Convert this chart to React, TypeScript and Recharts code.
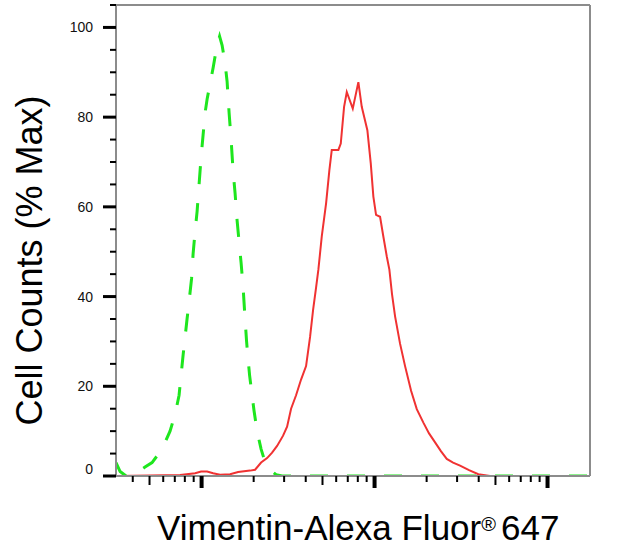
// Vimentin-Alexa Fluor 647 flow histogram (Recharts, log x axis)
import {
  LineChart,
  Line,
  XAxis,
  YAxis,
  ReferenceLine,
} from "recharts";

// isotype control (green dashed)
const GREEN_X = [32, 33.8, 36.6, 39.7, 42.4, 47.1, 51.7, 56.1, 59.1, 62.3, 65.7, 70.3, 74.1, 76.1, 78.2, 80.3, 82.4, 84.7, 87.5, 89.3, 91.7, 94.2, 96.7, 99.3, 102, 104.8, 107.6, 112, 116.6, 122.1, 127.1, 131.4, 136.7, 140.4, 144.2, 148.1, 152.1, 156.2, 160.4, 165.8, 169.2, 173.8, 178.4, 182, 185.7, 189.4, 195.8, 201.1, 209.3, 220.8, 229.8, 239.2, 255.6, 269.6, 292, 1000, 5000, 17600];
const GREEN_Y = [3, 1, 0, 0, 0.8, 2, 3, 4.8, 6, 8, 10, 13.8, 18, 22.5, 27, 31, 35, 39, 44, 49.5, 54.5, 59, 65, 71, 76, 81, 84, 87.5, 91, 95.5, 98, 96, 92, 88, 81, 75, 68, 63, 57, 51, 47.5, 42, 35, 30, 26, 22.5, 18, 14.5, 10, 6, 3.8, 2.5, 1, 0.3, 0, 0, 0, 0];

// Vimentin stained sample (red)
const RED_X = [32, 50.4, 75.1, 91.7, 99.3, 107.6, 116.6, 127.9, 146.1, 162.6, 190.6, 203.8, 220.8, 239.2, 255.6, 273.2, 295.9, 312.1, 329.1, 351.7, 375.9, 401.8, 423.8, 441, 459, 473.3, 495.2, 524.5, 548, 565.7, 617.7, 637.7, 666.4, 690.8, 748.2, 806, 843.3, 908.6, 950.7, 984.2, 1020, 1076, 1124, 1176, 1218, 1262, 1314, 1404, 1501, 1626, 1754, 1915, 2065, 2238, 2424, 2615, 2844, 3121, 3517, 3981, 4653, 17600];
const RED_Y = [0, 0.1, 0.2, 0.6, 1, 1, 0.6, 0.3, 0.4, 0.9, 1.2, 1.4, 3, 4, 5.2, 6.7, 9, 11, 15, 18, 21.5, 24.5, 31, 37, 42, 46, 53.4, 60.8, 68.2, 72.7, 72.7, 74.1, 82.3, 85.6, 81.9, 87.8, 82.3, 77.1, 69.7, 62.3, 58.2, 57.8, 53.4, 49, 46, 40.5, 35.6, 29.5, 24.5, 19, 14.9, 11.9, 9.5, 7.5, 5.5, 3.8, 3, 2.3, 1.3, 0.4, 0, 0];

const X_DOMAIN = [32, 17600];
const X_TICKS = [
  40, 50, 60, 70, 80, 90, 100,
  200, 300, 400, 500, 600, 700, 800, 900, 1000,
  2000, 3000, 4000, 5000, 6000, 7000, 8000, 9000, 10000,
];
const Y_MAX = 105;
const Y_TICKS = [0, 5, 10, 15, 20, 25, 30, 35, 40, 45, 50, 55, 60, 65, 70, 75, 80, 85, 90, 95, 100, 105];

const FONT = '"Liberation Sans", Arial, sans-serif';
const AXIS_GRAY = "#8c8c8c";

const greenData = GREEN_X.map((x, i) => ({ x, y: GREEN_Y[i] }));
const redData = RED_X.map((x, i) => ({ x, y: RED_Y[i] }));

function XTick(props: any) {
  const { x, y, payload } = props;
  const v = payload.value;
  const lg = Math.log10(v);
  const major = Math.abs(lg - Math.round(lg)) < 1e-6;
  const lead = Math.round(v / Math.pow(10, Math.floor(lg + 1e-9)));
  const len = major ? 12 : lead === 5 ? 9 : 6;
  return (
    <line x1={x} x2={x} y1={y} y2={y + len} stroke="#000" strokeWidth={major ? 4 : 2} />
  );
}

function YTick(props: any) {
  const { x, y, payload } = props;
  const v = payload.value;
  if (v % 20 !== 0) {
    return <line x1={x - 6} x2={x} y1={y} y2={y} stroke="#000" strokeWidth={2} />;
  }
  return (
    <g>
      <line x1={x - 13} x2={x} y1={y} y2={y} stroke="#000" strokeWidth={3} />
      <text
        x={x - 23}
        y={v === 0 ? y - 7 : y}
        textAnchor="end"
        dominantBaseline="central"
        fontSize={14}
        fontFamily={FONT}
        fill="#111"
      >
        {v}
      </text>
    </g>
  );
}

function XTitle(props: any) {
  const vb = props.viewBox;
  return (
    <text x={vb.x + 41} y={vb.y + 64} fontSize={35} fontFamily={FONT} fill="#000">
      Vimentin-Alexa Fluor
      <tspan fontSize={20} dy={-9}>®</tspan>
      <tspan dx={5} dy={9}>647</tspan>
    </text>
  );
}

function YTitle(props: any) {
  const vb = props.viewBox;
  const cx = vb.x + 42;
  const cy = vb.y + vb.height / 2 + 20;
  return (
    <text
      x={cx}
      y={cy}
      transform={`rotate(-90, ${cx}, ${cy})`}
      textAnchor="middle"
      fontSize={36}
      fontFamily={FONT}
      fill="#000"
    >
      Cell Counts (% Max)
    </text>
  );
}

export default function App() {
  return (
    <div style={{ position: "absolute", left: 0, top: 0, width: 630, height: 558, background: "#fff" }}>
      <LineChart width={630} height={558} margin={{ top: 5, right: 40, bottom: 0, left: 0 }}>
        <XAxis
          type="number"
          dataKey="x"
          scale="log"
          domain={X_DOMAIN}
          allowDataOverflow
          ticks={X_TICKS}
          interval={0}
          height={82}
          tickSize={0}
          tickMargin={0}
          tickLine={false}
          tick={<XTick />}
          axisLine={{ stroke: AXIS_GRAY, strokeWidth: 2 }}
          label={XTitle}
        />
        <YAxis
          type="number"
          dataKey="y"
          domain={[0, Y_MAX]}
          allowDataOverflow
          ticks={Y_TICKS}
          interval={0}
          width={116}
          tickSize={0}
          tickMargin={0}
          tickLine={false}
          tick={<YTick />}
          axisLine={{ stroke: AXIS_GRAY, strokeWidth: 2 }}
          label={YTitle}
        />
        <ReferenceLine y={Y_MAX} stroke={AXIS_GRAY} strokeWidth={2} />
        <ReferenceLine x={X_DOMAIN[1]} stroke={AXIS_GRAY} strokeWidth={2} />
        <Line
          data={redData}
          dataKey="y"
          type="linear"
          stroke="#f03232"
          strokeWidth={2}
          dot={false}
          isAnimationActive={false}
        />
        <Line
          data={greenData}
          dataKey="y"
          type="linear"
          stroke="#1ee61e"
          strokeWidth={3}
          strokeDasharray="18 19"
          dot={false}
          isAnimationActive={false}
        />
      </LineChart>
    </div>
  );
}
